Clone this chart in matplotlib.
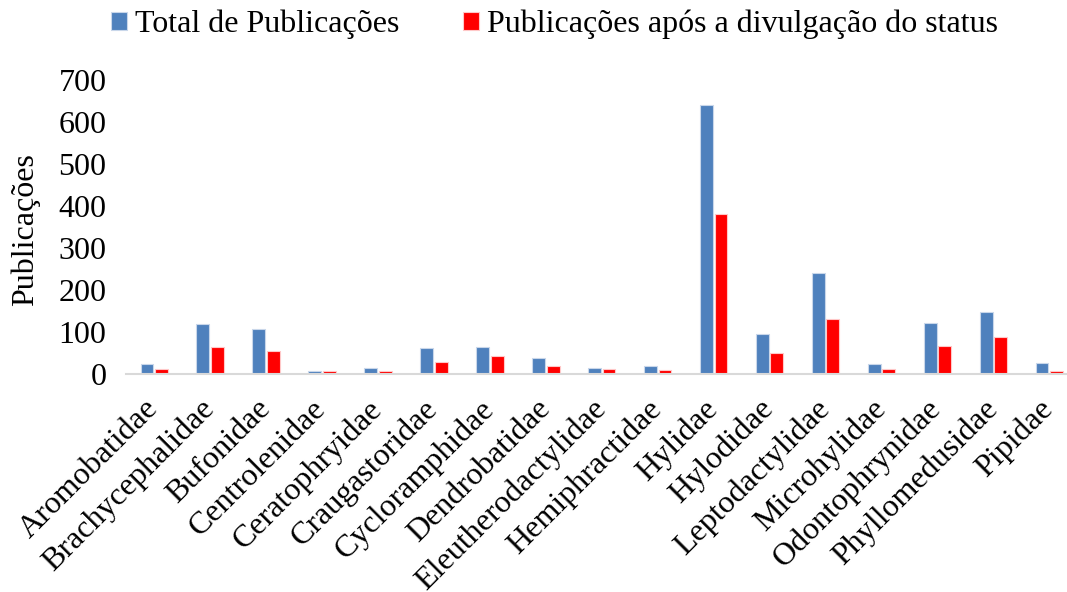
import matplotlib
matplotlib.use("Agg")
import matplotlib.pyplot as plt
import numpy as np

categories = ["Aromobatidae", "Brachycephalidae", "Bufonidae", "Centrolenidae",
              "Ceratophryidae", "Craugastoridae", "Cycloramphidae", "Dendrobatidae",
              "Eleutherodactylidae", "Hemiphractidae", "Hylidae", "Hylodidae",
              "Leptodactylidae", "Microhylidae", "Odontophrynidae", "Phyllomedusidae",
              "Pipidae"]
total = [25, 120, 107, 7, 14, 61, 65, 37, 14, 18, 641, 96, 240, 25, 122, 148, 27]
apos = [13, 64, 55, 6, 8, 29, 42, 19, 11, 10, 380, 49, 131, 13, 66, 89, 7]
yticks = [0, 100, 200, 300, 400, 500, 600, 700]

plt.rcParams['font.family'] = ['Liberation Serif', 'DejaVu Serif']
FS = 23

fig = plt.figure(figsize=(10.67, 5.92), dpi=100)
ax = fig.add_axes([126/1067, 218/592, 951/1067, 294/592])

x = np.arange(len(categories))
w = 0.23
ax.bar(x - 0.125, total, width=w, color='#4F81BD', edgecolor='#C9D7EA', linewidth=0.8,
       label='Total de Publicações')
ax.bar(x + 0.135, apos, width=w, color='#FF0000', edgecolor='#FFC8C8', linewidth=0.8,
       label='Publicações após a divulgação do status')

ax.set_xlim(-0.5, len(categories) - 0.5)
ax.set_ylim(0, 700)
ax.set_yticks(yticks)
ax.set_yticklabels([str(v) for v in yticks], fontsize=FS)
ax.tick_params(axis='y', length=0, pad=14)
ax.tick_params(axis='x', length=0, pad=22)
ax.set_xticks(x)
ax.set_xticklabels(categories, rotation=45, ha='right', va='center',
                   rotation_mode='anchor', fontsize=FS)

for s in ['top', 'right', 'left']:
    ax.spines[s].set_visible(False)
ax.spines['bottom'].set_color('#D9D9D9')
ax.spines['bottom'].set_linewidth(1.5)

ax.set_ylabel('Publicações', fontsize=FS)
ax.yaxis.set_label_coords((40 - 126) / 951, 0.49)

leg = fig.legend(loc='upper left', bbox_to_anchor=(98/1067, 1.0 + 3/592), ncol=2, frameon=False,
                 fontsize=FS, handlelength=0.5, handleheight=0.5, handletextpad=0.25,
                 columnspacing=2.0, borderaxespad=0.0)

fig.savefig('out.png', dpi=100)
